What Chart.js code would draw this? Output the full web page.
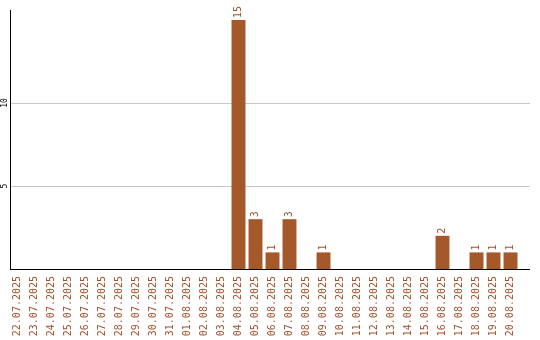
<!DOCTYPE html>
<html>
  <head>
    <title>Chart</title>
    <style>
      html, body { margin: 0; padding: 0; background: #fff; }
      .chart-container { width: 540px; height: 340px; position: relative; }
    </style>
  </head>
  <body>
    <div class="chart-container">
      <canvas id="barChart"></canvas>
    </div>

    <script src="https://cdn.jsdelivr.net/npm/chart.js"></script>
    <script>
      // Datos
      var dates = [
        "22.07.2025", "23.07.2025", "24.07.2025", "25.07.2025", "26.07.2025",
        "27.07.2025", "28.07.2025", "29.07.2025", "30.07.2025", "31.07.2025",
        "01.08.2025", "02.08.2025", "03.08.2025", "04.08.2025", "05.08.2025",
        "06.08.2025", "07.08.2025", "08.08.2025", "09.08.2025", "10.08.2025",
        "11.08.2025", "12.08.2025", "13.08.2025", "14.08.2025", "15.08.2025",
        "16.08.2025", "17.08.2025", "18.08.2025", "19.08.2025", "20.08.2025"
      ];
      var counts = [
        0, 0, 0, 0, 0, 0, 0, 0, 0, 0,
        0, 0, 0, 15, 3, 1, 3, 0, 1, 0,
        0, 0, 0, 0, 0, 2, 0, 1, 1, 1
      ];
      var yTicks = [5, 10];

      var brown = "#A5592A";
      var textBrown = "#A0522D";
      var mono = "'DejaVu Sans Mono', 'Liberation Mono', monospace";

      // Rejilla, ejes, etiquetas del eje Y y valores sobre las barras
      var extras = {
        id: "extras",
        beforeDatasetsDraw: function (chart) {
          var ctx = chart.ctx;
          var area = chart.chartArea;
          var y = chart.scales.y;
          ctx.save();
          ctx.strokeStyle = "#c8c8c8";
          ctx.lineWidth = 1;
          ctx.beginPath();
          yTicks.forEach(function (v) {
            var py = Math.round(y.getPixelForValue(v)) + 0.5;
            ctx.moveTo(area.left + 1, py);
            ctx.lineTo(area.right + 11, py);
          });
          ctx.stroke();
          ctx.restore();
        },
        afterDraw: function (chart) {
          var ctx = chart.ctx;
          var area = chart.chartArea;
          var y = chart.scales.y;
          ctx.save();
          ctx.strokeStyle = "#000";
          ctx.lineWidth = 1;
          ctx.beginPath();
          ctx.moveTo(area.left + 1.5, area.top);
          ctx.lineTo(area.left + 1.5, area.bottom + 1);
          ctx.moveTo(area.left + 1, area.bottom + 0.5);
          ctx.lineTo(area.right + 11, area.bottom + 0.5);
          ctx.stroke();

          ctx.fillStyle = "#000";
          ctx.font = "8px " + mono;
          ctx.textAlign = "center";
          ctx.textBaseline = "middle";
          yTicks.forEach(function (v) {
            ctx.save();
            ctx.translate(5, y.getPixelForValue(v));
            ctx.rotate(-Math.PI / 2);
            ctx.fillText(String(v), 0, 0);
            ctx.restore();
          });

          ctx.fillStyle = textBrown;
          ctx.font = "10px " + mono;
          ctx.textAlign = "left";
          var meta = chart.getDatasetMeta(0);
          meta.data.forEach(function (bar, i) {
            if (!counts[i]) return;
            ctx.save();
            ctx.translate(bar.x, bar.y - 2);
            ctx.rotate(-Math.PI / 2);
            ctx.fillText(String(counts[i]), 0, 0);
            ctx.restore();
          });
          ctx.restore();
        },
      };

      new Chart(document.getElementById("barChart"), {
        type: "bar",
        data: {
          labels: dates,
          datasets: [
            {
              data: counts,
              backgroundColor: brown,
              categoryPercentage: 1,
              barPercentage: 0.82,
            },
          ],
        },
        options: {
          responsive: true,
          maintainAspectRatio: false,
          animation: false,
          layout: { padding: { left: 9, right: 21, top: 10, bottom: 0 } },
          plugins: {
            legend: { display: false },
            tooltip: { enabled: false },
          },
          scales: {
            x: {
              grid: { display: false, drawTicks: false },
              border: { display: false },
              ticks: {
                color: textBrown,
                font: { family: mono, size: 10 },
                minRotation: 90,
                maxRotation: 90,
                autoSkip: false,
                padding: 7,
              },
              afterFit: function (scale) {
                scale.height = 71;
              },
            },
            y: {
              min: 0,
              max: 15.6,
              grid: { display: false, drawTicks: false },
              border: { display: false },
              ticks: { display: false },
              afterFit: function (scale) {
                scale.width = 0;
              },
            },
          },
        },
        plugins: [extras],
      });
    </script>
  </body>
</html>
